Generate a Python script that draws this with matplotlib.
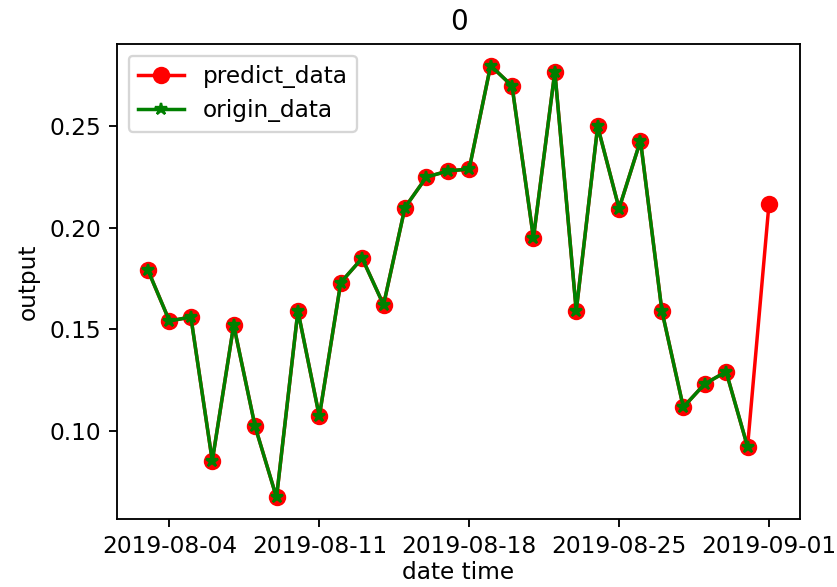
import numpy as np
import pandas as pd
from matplotlib import pyplot as plt
import matplotlib.dates as mdates

dates = pd.date_range('2019-08-03', '2019-09-01', freq='D')

predict_data = [0.179, 0.154, 0.156, 0.085, 0.152, 0.102, 0.067, 0.159, 0.107, 0.173,
                0.185, 0.162, 0.210, 0.225, 0.228, 0.229, 0.280, 0.270, 0.195, 0.277,
                0.159, 0.250, 0.2095, 0.243, 0.159, 0.1115, 0.123, 0.129, 0.092, 0.2116]
origin_data = predict_data[:-1]

dpi = 167
fig = plt.figure(figsize=(837 / dpi, 587 / dpi), dpi=dpi)
ax = fig.add_axes([117 / 837, 1 - 519 / 587, (800 - 117) / 837, (519 - 44) / 587])

ax.plot(dates, predict_data, c='r', marker='o', ms=6.5, label='predict_data')
ax.plot(dates[:-1], origin_data, c='g', marker='*', ms=5.5, label='origin_data')

ax.set_title('0')
ax.set_xlabel('date time', labelpad=1)
ax.set_ylabel('output')
ax.set_yticks([0.10, 0.15, 0.20, 0.25])
ax.xaxis.set_major_locator(mdates.DayLocator(bymonthday=[4, 11, 18, 25, 1]))
ax.xaxis.set_major_formatter(mdates.DateFormatter('%Y-%m-%d'))
ax.legend(loc='upper left')

fig.savefig('out.png', dpi=dpi)
